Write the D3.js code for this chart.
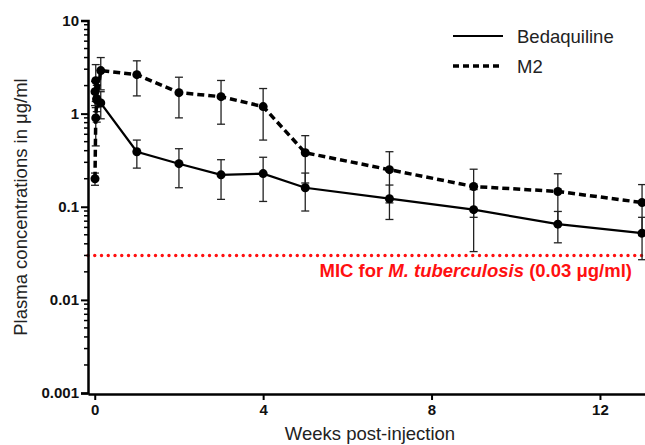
<!DOCTYPE html>
<html>
<head>
<meta charset="utf-8">
<script src="https://cdn.jsdelivr.net/npm/d3@7"></script>
<style>
  body { margin: 0; background: #fff; }
  svg { display: block; font-family: "Liberation Sans", Arial, sans-serif; }
</style>
</head>
<body>
<svg id="chart"></svg>
<script>
// sampling times in weeks (1h, 4h, 8h, day 1, then weekly)
const weeks = [0.006, 0.024, 0.048, 0.143, 1, 2, 3, 4, 5, 7, 9, 11, 13];

const bdqMean = [1.72, 2.26, 1.41, 1.3, 0.39, 0.29, 0.22, 0.227, 0.16, 0.122, 0.093, 0.065, 0.052];
const bdqSd   = [0.5, 1.1, 0.6, 0.42, 0.13, 0.13, 0.1, 0.113, 0.07, 0.049, 0.06, 0.024, 0.025];

const m2Mean = [0.2, 0.9, 1.45, 2.9, 2.62, 1.68, 1.52, 1.19, 0.38, 0.25, 0.165, 0.146, 0.111];
const m2Sd   = [0.03, 0.45, 0.4, 1.1, 1.07, 0.78, 0.75, 0.67, 0.2, 0.14, 0.088, 0.08, 0.062];

const yTicks = [10, 1, 0.1, 0.01, 0.001];
const xTicks = [0, 4, 8, 12];
const mic = 0.03;

const series = [
  { name: "Bedaquiline", mean: bdqMean, sd: bdqSd, dash: null, width: 2.2 },
  { name: "M2", mean: m2Mean, sd: m2Sd, dash: "7,4", width: 3.5 }
];

const W = 645, H = 445;
const svg = d3.select("#chart").attr("width", W).attr("height", H);

const x = d3.scaleLinear().domain([-0.16, 13.07]).range([88, 645]);
const y = d3.scaleLog().domain([0.001, 10]).range([393, 20.5]);

// MIC dotted line
svg.append("line")
  .attr("x1", x(-0.16)).attr("x2", W)
  .attr("y1", y(mic)).attr("y2", y(mic))
  .style("stroke", "#ff1010")
  .style("stroke-width", 3.4)
  .style("stroke-linecap", "round")
  .style("stroke-dasharray", "0,6.75");

const micLabel = svg.append("text")
  .attr("x", 632).attr("y", y(mic) + 22)
  .attr("text-anchor", "end")
  .style("fill", "#ff1010")
  .style("font-weight", "bold")
  .style("font-size", "18.5px");
micLabel.append("tspan").text("MIC for ");
micLabel.append("tspan").style("font-style", "italic").text("M. tuberculosis");
micLabel.append("tspan").text(" (0.03 \u03bcg/ml)");

// error bars
series.forEach(s => {
  const g = svg.append("g")
    .style("stroke", "#222")
    .style("stroke-width", 1.3);
  weeks.forEach((w, i) => {
    const lo = Math.max(s.mean[i] - s.sd[i], 0.001);
    const hi = s.mean[i] + s.sd[i];
    g.append("line")
      .attr("x1", x(w)).attr("x2", x(w))
      .attr("y1", y(lo)).attr("y2", y(hi));
    [lo, hi].forEach(v => {
      g.append("line")
        .attr("x1", x(w) - 4).attr("x2", x(w) + 4)
        .attr("y1", y(v)).attr("y2", y(v));
    });
  });
});

// lines and points
const line = d3.line().x((d, i) => x(weeks[i])).y(d => y(d));
series.forEach(s => {
  svg.append("path")
    .datum(s.mean)
    .attr("d", line)
    .style("fill", "none")
    .style("stroke", "#000")
    .style("stroke-width", s.width)
    .style("stroke-dasharray", s.dash);

  svg.append("g")
    .selectAll("circle")
    .data(s.mean)
    .join("circle")
    .attr("cx", (d, i) => x(weeks[i]))
    .attr("cy", d => y(d))
    .attr("r", 4.5)
    .style("fill", "#000");
});

// y axis with minor ticks
const minor = [];
for (let e = -3; e < 1; e++) {
  for (let k = 2; k <= 9; k++) minor.push(k * Math.pow(10, e));
}
const yAxis = svg.append("g")
  .attr("transform", `translate(${x(-0.16)},0)`)
  .call(d3.axisLeft(y).tickValues(yTicks).tickSize(7)
    .tickFormat(d => d3.format("~g")(d)));
yAxis.selectAll(".tick line").style("stroke-width", 2);
yAxis.select(".domain").style("stroke-width", 2.5);
yAxis.selectAll(".tick text")
  .attr("x", -9)
  .style("font-size", "15px").style("font-weight", "bold").style("fill", "#111");
yAxis.selectAll(".minor")
  .data(minor)
  .join("line")
  .attr("class", "minor")
  .attr("x1", -4).attr("x2", 0)
  .attr("y1", d => y(d)).attr("y2", d => y(d))
  .style("stroke", "#000").style("stroke-width", 1.5);

// x axis
const xAxis = svg.append("g")
  .attr("transform", `translate(0,${y(0.001) + 1})`)
  .call(d3.axisBottom(x).tickValues(xTicks).tickSize(6).tickSizeOuter(0));
xAxis.select(".domain").style("stroke-width", 2.5);
xAxis.selectAll(".tick line").style("stroke-width", 2);
xAxis.selectAll(".tick text")
  .attr("y", 10)
  .style("font-size", "15px").style("font-weight", "bold").style("fill", "#111");

// axis titles
svg.append("text")
  .attr("x", 370).attr("y", 440)
  .attr("text-anchor", "middle")
  .style("font-size", "18.5px").style("fill", "#222")
  .text("Weeks post-injection");

svg.append("text")
  .attr("transform", "translate(27,207) rotate(-90)")
  .attr("text-anchor", "middle")
  .style("font-size", "18.5px").style("fill", "#222")
  .text("Plasma concentrations in \u03bcg/ml");

// legend
const legend = svg.append("g");
series.forEach((s, i) => {
  const ly = 36 + i * 30;
  legend.append("line")
    .attr("x1", 453).attr("x2", 503)
    .attr("y1", ly).attr("y2", ly)
    .style("stroke", "#000")
    .style("stroke-width", i === 0 ? 2 : 3.5)
    .style("stroke-dasharray", i === 0 ? null : "6,4");
  legend.append("text")
    .attr("x", 517).attr("y", ly + 6.5)
    .style("font-size", "18.5px").style("fill", "#222")
    .text(s.name);
});
</script>
</body>
</html>
